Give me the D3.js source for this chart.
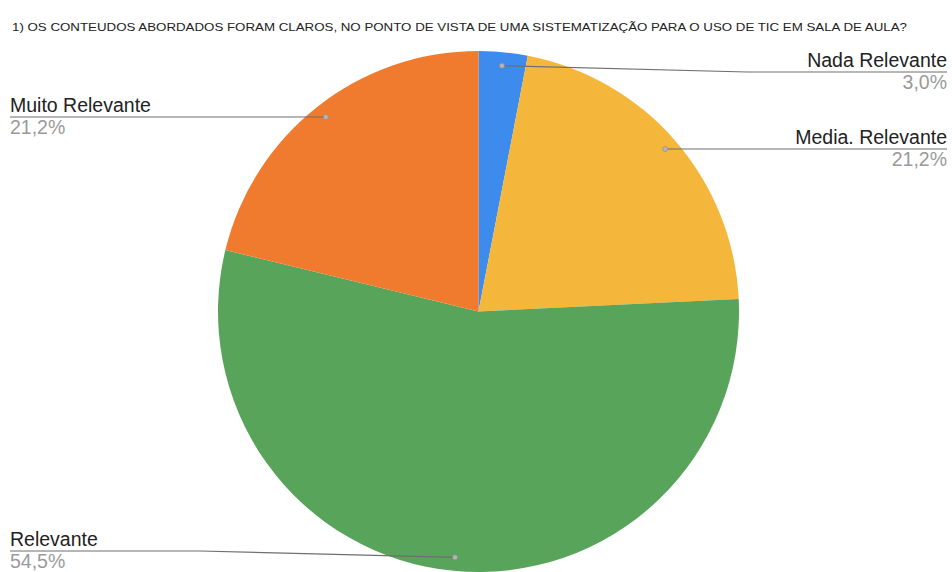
<!DOCTYPE html>
<html>
<head>
<meta charset="utf-8">
<script src="https://cdn.jsdelivr.net/npm/d3@7"></script>
<style>
  html, body { margin: 0; padding: 0; background: #fff; }
  svg { display: block; }
</style>
</head>
<body>
<svg id="chart" width="952" height="572"></svg>
<script>
// Survey answers (respondent counts), in drawing order from 12 o'clock clockwise
const categories = ["Nada Relevante", "Media. Relevante", "Relevante", "Muito Relevante"];
const counts = [1, 7, 18, 7];
const percentLabels = ["3,0%", "21,2%", "54,5%", "21,2%"];
const sliceColors = ["#3d8bec", "#f5b73b", "#57a45a", "#f07b2f"];
const title = "1) OS CONTEUDOS ABORDADOS FORAM CLAROS, NO PONTO DE VISTA DE UMA SISTEMATIZAÇÃO PARA O USO DE TIC EM SALA DE AULA?";

const svg = d3.select("#chart");
const cx = 478.5, cy = 311.5, R = 260.5;
const font = "'Liberation Sans', Arial, sans-serif";

svg.append("text")
  .attr("x", 12).attr("y", 31)
  .attr("font-family", font)
  .attr("font-size", 11)
  .attr("textLength", 895)
  .attr("lengthAdjust", "spacingAndGlyphs")
  .attr("fill", "#222")
  .text(title);

const pie = d3.pie().sort(null).value(d => d)(counts);
const arc = d3.arc().innerRadius(0).outerRadius(R);

const g = svg.append("g").attr("transform", `translate(${cx},${cy})`);
g.selectAll("path.slice")
  .data(pie)
  .join("path")
  .attr("class", "slice")
  .attr("d", arc)
  .attr("fill", (d, i) => sliceColors[i]);

// Label layout: side, y of the leader's horizontal run, x where it bends
const labelLayout = [
  { side: "right", lineY: 72,  bendX: 747 },
  { side: "right", lineY: 149, bendX: null },
  { side: "left",  lineY: 551, bendX: 200 },
  { side: "left",  lineY: 117, bendX: null }
];

const dotR = R * 0.948;
const fs = 19.5;

pie.forEach((d, i) => {
  const a = (d.startAngle + d.endAngle) / 2;
  const px = cx + dotR * Math.sin(a);
  const py = cy - dotR * Math.cos(a);
  const L = labelLayout[i];
  const endX = L.side === "right" ? 947 : 10;
  const pts = [[px, py]];
  if (L.bendX !== null) pts.push([L.bendX, L.lineY]);
  else pts[0] = [px, L.lineY];
  pts.push([endX, L.lineY]);

  svg.append("path")
    .attr("d", d3.line()(pts))
    .attr("fill", "none")
    .attr("stroke", "#6f6f6f")
    .attr("stroke-width", 1.2);

  svg.append("circle")
    .attr("cx", pts[0][0]).attr("cy", pts[0][1])
    .attr("r", 2.5)
    .attr("fill", "#b5b5b5")
    .attr("stroke", "#8a8a8a")
    .attr("stroke-width", 0.6);

  const anchor = L.side === "right" ? "end" : "start";
  svg.append("text")
    .attr("x", endX).attr("y", L.lineY - 5)
    .attr("text-anchor", anchor)
    .attr("font-family", font).attr("font-size", fs)
    .attr("fill", "#222")
    .text(categories[i]);
  svg.append("text")
    .attr("x", endX).attr("y", L.lineY + 17)
    .attr("text-anchor", anchor)
    .attr("font-family", font).attr("font-size", fs)
    .attr("fill", "#9a9a9a")
    .text(percentLabels[i]);
});
</script>
</body>
</html>
